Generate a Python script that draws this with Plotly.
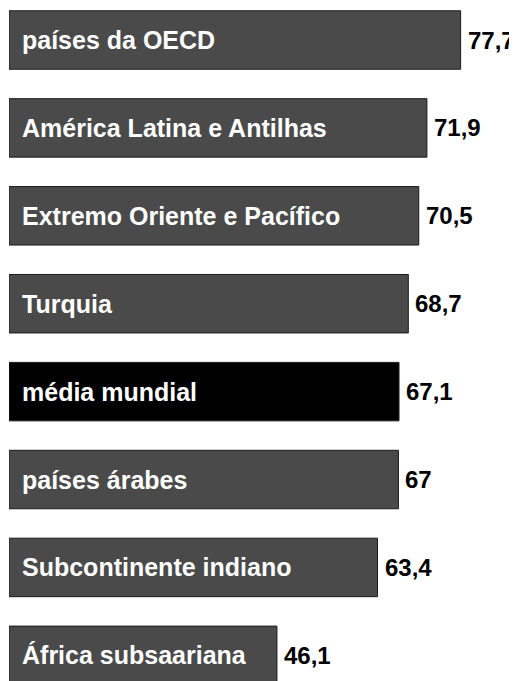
import plotly.graph_objects as go

categories = ["países da OECD", "América Latina e Antilhas", "Extremo Oriente e Pacífico",
              "Turquia", "média mundial", "países árabes", "Subcontinente indiano",
              "África subsaariana"]
values = [77.7, 71.9, 70.5, 68.7, 67.1, 67, 63.4, 46.1]
value_labels = ["77,7", "71,9", "70,5", "68,7", "67,1", "67", "63,4", "46,1"]
highlight = "média mundial"

FONT = "Liberation Sans, Arial, sans-serif"
colors = ["#000000" if c == highlight else "#4a4a4a" for c in categories]

fig = go.Figure()
fig.add_trace(go.Bar(
    x=values, y=categories, orientation="h",
    marker=dict(color=colors, line=dict(color="#1a1a1a", width=1)),
    hoverinfo="skip",
))

annotations = []
for c, v, lab in zip(categories, values, value_labels):
    annotations.append(dict(
        x=0, y=c, xref="x", yref="y", text=f"<b>{c}</b>", showarrow=False,
        xanchor="left", yanchor="middle", xshift=11,
        font=dict(family=FONT, size=25, color="white"),
    ))
    annotations.append(dict(
        x=v, y=c, xref="x", yref="y", text=f"<b>{lab}</b>", showarrow=False,
        xanchor="left", yanchor="middle", xshift=5,
        font=dict(family=FONT, size=24, color="black"),
    ))

fig.update_layout(
    width=509, height=673,
    margin=dict(l=1, r=0, t=0, b=0),
    paper_bgcolor="white", plot_bgcolor="white",
    bargap=0.335,
    showlegend=False,
    annotations=annotations,
    xaxis=dict(range=[0, 87.4], visible=False, fixedrange=True),
    yaxis=dict(categoryorder="array", categoryarray=categories,
               range=[7.292, -0.364], visible=False, fixedrange=True),
)

fig.write_html("out.html", config={"displayModeBar": False})
